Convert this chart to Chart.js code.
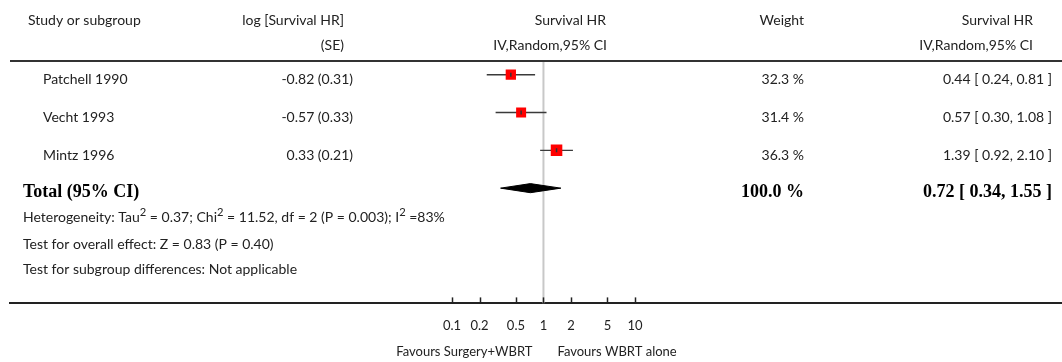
<!DOCTYPE html>
<html>
<head>
<meta charset="utf-8">
<script src="https://cdn.jsdelivr.net/npm/chart.js@4.4.1/dist/chart.umd.min.js"></script>
<style>
  html, body { margin: 0; padding: 0; background: #fff; }
  #wrap { width: 1062px; height: 362px; }
</style>
</head>
<body>
<div id="wrap"><canvas id="forest" width="1062" height="362"></canvas></div>
<script>
// values
const studies = ['Patchell 1990', 'Vecht 1993', 'Mintz 1996'];
const logHrSe = ['-0.82 (0.31)', '-0.57 (0.33)', '0.33 (0.21)'];
const hr = [0.44, 0.57, 1.39];
const ciLow = [0.24, 0.30, 0.92];
const ciHigh = [0.81, 1.08, 2.10];
const weights = [32.3, 31.4, 36.3];
const totalEst = 0.72;
const totalLow = 0.34;
const totalHigh = 1.55;
const totalWeight = 100.0;
const tickVals = [0.1, 0.2, 0.5, 1, 2, 5, 10];
const tickLabels = ['0.1', '0.2', '0.5', '1', '2', '5', '10'];

const FONT = 'Lato, "Open Sans", sans-serif';
const TOTAL_ROW = studies.length;
const Y_MIN = -0.363, Y_MAX = 6.048;

const fmtCi = (e, l, h) => `${e.toFixed(2)} [ ${l.toFixed(2)}, ${h.toFixed(2)} ]`;

// text segments, second item = superscript
const hetero = [['Heterogeneity: Tau', 0], ['2', 1], [' = 0.37; Chi', 0], ['2', 1],
  [' = 11.52, df = 2 (P = 0.003); I', 0], ['2', 1], [' =83%', 0]];
const overall = 'Test for overall effect: Z = 0.83 (P = 0.40)';
const subgroup = 'Test for subgroup differences: Not applicable';

const datasets = [];
// line of no effect
datasets.push({
  data: [{ x: 1, y: Y_MIN }, { x: 1, y: Y_MAX }],
  showLine: true, borderColor: '#c8c8c8', borderWidth: 2, pointRadius: 0, order: 6
});
// confidence intervals
studies.forEach((s, i) => {
  datasets.push({
    data: [{ x: ciLow[i], y: i }, { x: ciHigh[i], y: i }],
    showLine: true, borderColor: '#3a3a3a', borderWidth: 1.4, pointRadius: 0, order: 5
  });
});
// weighted squares
datasets.push({
  data: hr.map((v, i) => ({ x: v, y: i })),
  pointStyle: 'rect', pointRadius: weights.map(w => w * 0.225),
  backgroundColor: '#ff0000', borderWidth: 0, order: 4
});
// little mark in the middle of each square
datasets.push({
  data: hr.map((v, i) => ({ x: v, y: i })),
  pointStyle: 'line', rotation: 90, pointRadius: 2,
  borderColor: '#333', borderWidth: 1.5, order: 3
});
// pooled diamond
const dh = 0.12;
datasets.push({
  data: [
    { x: totalLow, y: TOTAL_ROW }, { x: totalEst, y: TOTAL_ROW - dh },
    { x: totalHigh, y: TOTAL_ROW }, { x: totalEst, y: TOTAL_ROW + dh },
    { x: totalLow, y: TOTAL_ROW }
  ],
  showLine: true, fill: 'shape', tension: 0,
  backgroundColor: '#000', borderColor: '#000', borderWidth: 1, pointRadius: 0, order: 2
});

function richText(ctx, segs, x, y, size) {
  segs.forEach(([t, sup]) => {
    ctx.font = (sup ? size * 0.8 : size) + 'px ' + FONT;
    ctx.fillText(t, x, sup ? y - size * 0.4 : y);
    x += ctx.measureText(t).width;
  });
}

const forestText = {
  id: 'forestText',
  afterDraw(chart) {
    const { ctx, chartArea: a, scales: { x, y } } = chart;
    ctx.save();
    // header rule
    ctx.strokeStyle = '#333';
    ctx.lineWidth = 2;
    ctx.beginPath(); ctx.moveTo(a.left, a.top); ctx.lineTo(a.right, a.top); ctx.stroke();
    // tick marks pointing up from the axis
    ctx.strokeStyle = '#222';
    ctx.lineWidth = 1.5;
    tickVals.forEach(v => {
      const px = Math.round(x.getPixelForValue(v)) + 0.5;
      ctx.beginPath(); ctx.moveTo(px, a.bottom); ctx.lineTo(px, a.bottom - 6); ctx.stroke();
    });

    ctx.fillStyle = '#222';
    ctx.textBaseline = 'alphabetic';
    ctx.font = '14px ' + FONT;
    // headers
    ctx.textAlign = 'left';
    ctx.fillText('Study or subgroup', 28, 25);
    ctx.textAlign = 'right';
    ctx.fillText('log [Survival HR]', 344, 25);
    ctx.fillText('(SE)', 344, 50);
    ctx.fillText('Survival HR', 606, 25);
    ctx.fillText('IV,Random,95% CI', 607, 50);
    ctx.fillText('Weight', 804, 25);
    ctx.fillText('Survival HR', 1033, 25);
    ctx.fillText('IV,Random,95% CI', 1033, 50);

    // study rows
    studies.forEach((s, i) => {
      const py = y.getPixelForValue(i) + 9.5;
      ctx.textAlign = 'left';
      ctx.fillText(s, 43, py);
      ctx.textAlign = 'right';
      ctx.fillText(logHrSe[i], 353, py);
      ctx.fillText(weights[i].toFixed(1) + ' %', 804, py);
      ctx.fillText(fmtCi(hr[i], ciLow[i], ciHigh[i]), 1052, py);
    });

    // total row
    const ty = y.getPixelForValue(TOTAL_ROW) + 9;
    ctx.fillStyle = '#000';
    ctx.font = 'bold 18px "Liberation Serif", serif';
    ctx.textAlign = 'left';
    ctx.fillText('Total (95% CI)', 23, ty);
    ctx.textAlign = 'right';
    ctx.fillText(totalWeight.toFixed(1) + ' %', 804, ty);
    ctx.fillText(fmtCi(totalEst, totalLow, totalHigh), 1052, ty);

    // footer notes
    ctx.fillStyle = '#222';
    ctx.textAlign = 'left';
    richText(ctx, hetero, 23, 222, 14);
    ctx.font = '14px ' + FONT;
    ctx.fillText(overall, 23, 248.5);
    ctx.fillText(subgroup, 23, 273.5);

    // favours labels
    const x1 = x.getPixelForValue(1);
    ctx.font = '13px ' + FONT;
    ctx.textAlign = 'right';
    ctx.fillText('Favours Surgery+WBRT', x1 - 11, 356);
    ctx.textAlign = 'left';
    ctx.fillText('Favours WBRT alone', x1 + 14, 356);
    ctx.restore();
  }
};

new Chart(document.getElementById('forest'), {
  type: 'scatter',
  data: { datasets },
  options: {
    responsive: false,
    animation: false,
    layout: { autoPadding: false, padding: { left: 10, right: 0, top: 61, bottom: 13 } },
    plugins: { legend: { display: false }, tooltip: { enabled: false } },
    scales: {
      x: {
        type: 'logarithmic',
        min: Math.pow(10, -5.83),
        max: Math.pow(10, 5.667),
        afterBuildTicks: s => { s.ticks = tickVals.map(v => ({ value: v })); },
        grid: { display: false, drawTicks: false },
        border: { display: true, color: '#222', width: 2 },
        ticks: {
          autoSkip: false, maxRotation: 0, padding: 15, color: '#222',
          font: { family: FONT, size: 13 },
          callback: v => tickLabels[tickVals.indexOf(v)]
        }
      },
      y: { type: 'linear', reverse: true, min: Y_MIN, max: Y_MAX, display: false }
    }
  },
  plugins: [forestText]
});
</script>
</body>
</html>
